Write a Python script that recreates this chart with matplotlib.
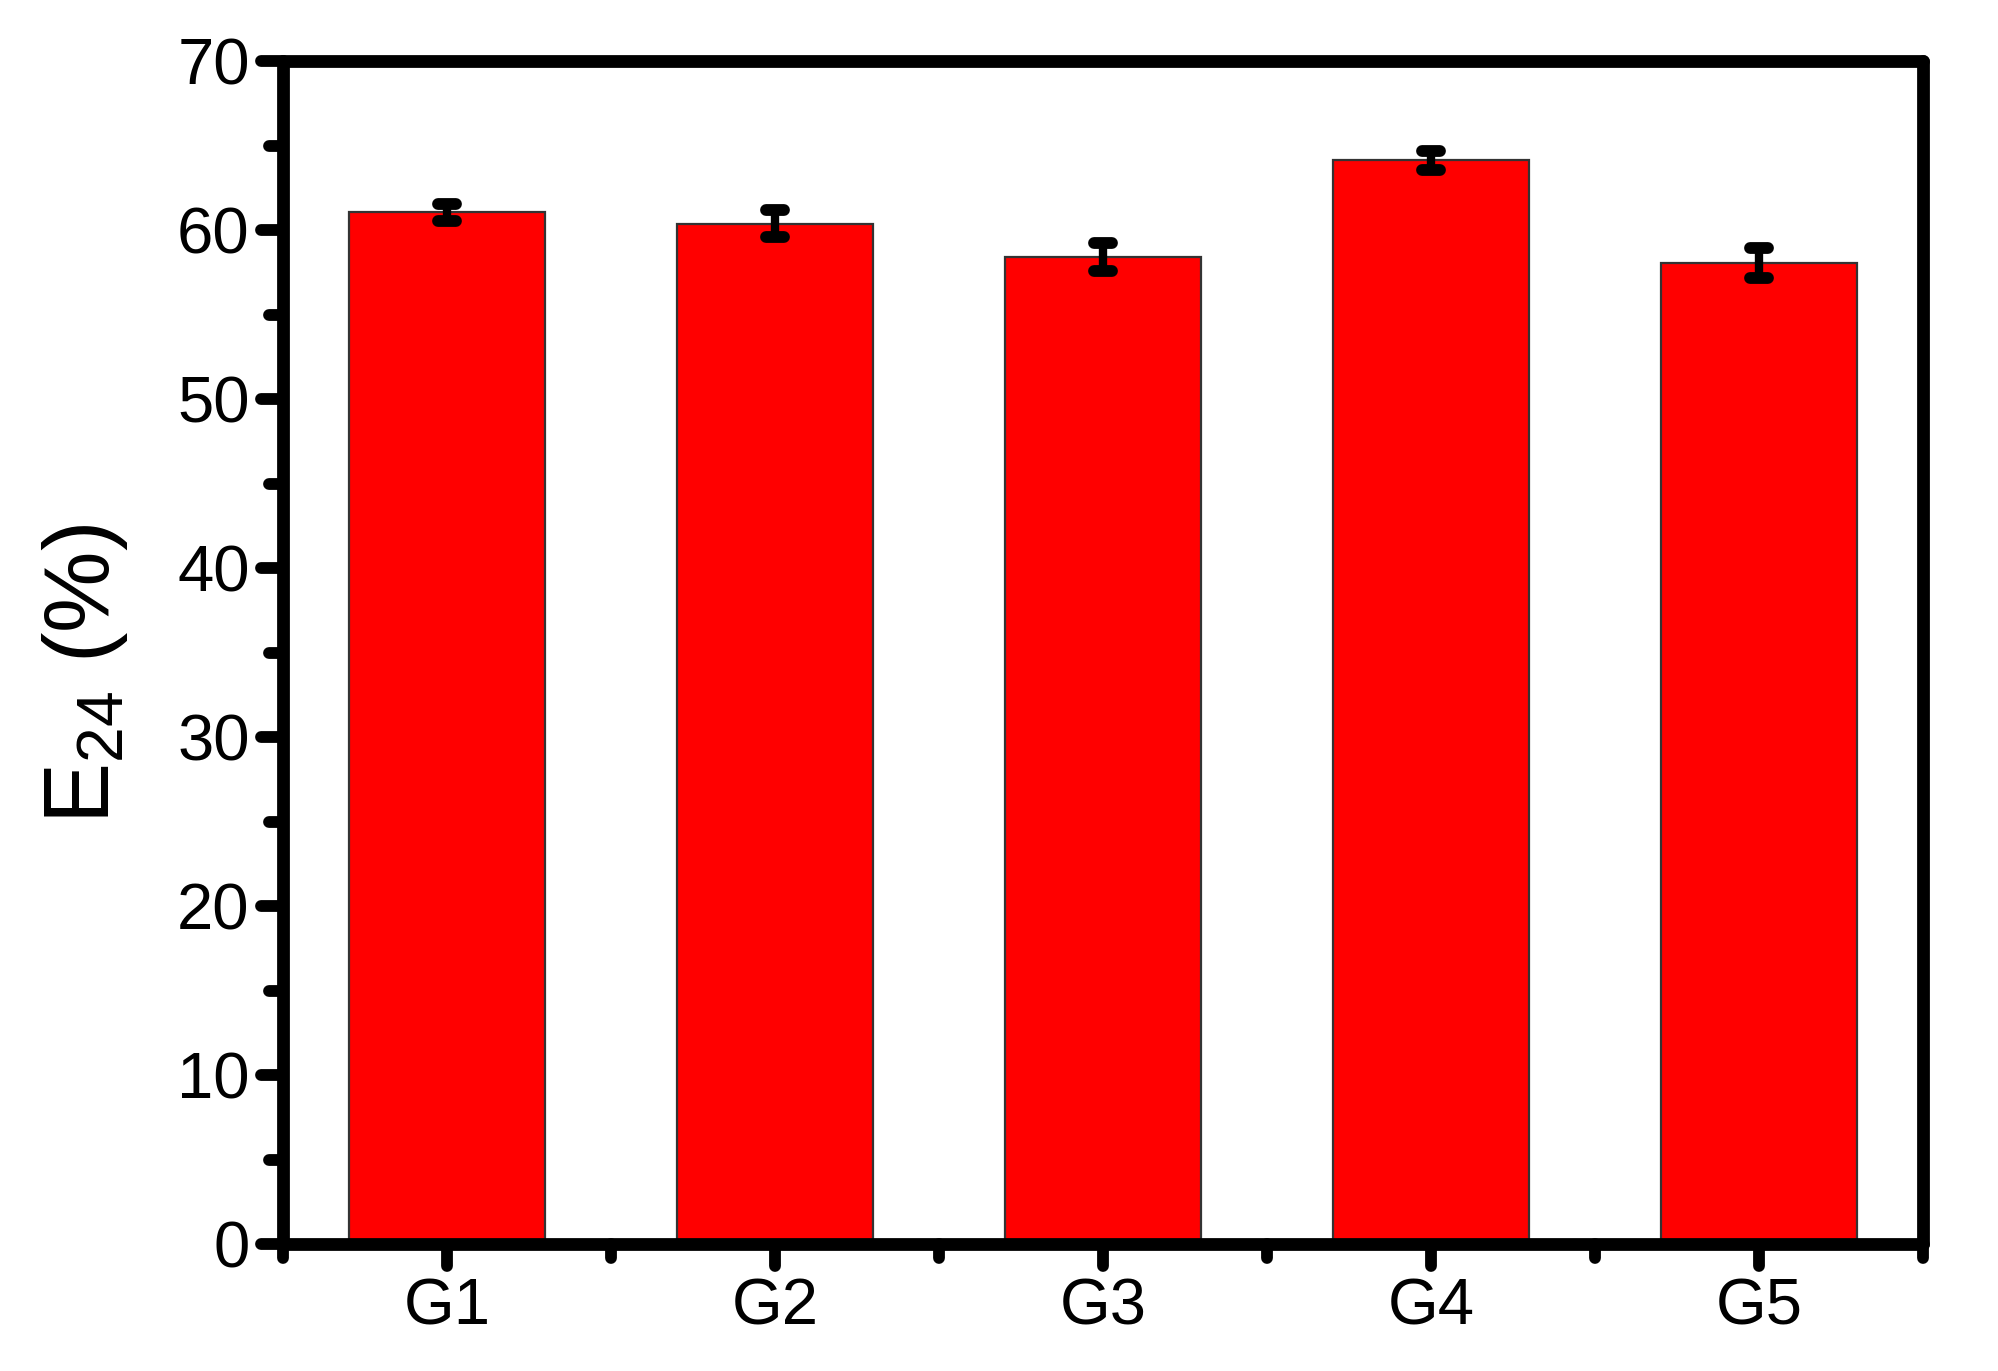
import matplotlib
matplotlib.use("Agg")
import matplotlib.pyplot as plt
import matplotlib.lines as mlines
from matplotlib.markers import MarkerStyle
import numpy as np

categories = ["G1", "G2", "G3", "G4", "G5"]
values = [61.05, 60.37, 58.4, 64.12, 58.07]
errors = [0.49, 0.79, 0.84, 0.55, 0.89]
yticks = [0, 10, 20, 30, 40, 50, 60, 70]

plt.rcParams['font.family'] = ['Liberation Sans', 'DejaVu Sans']
plt.rcParams['mathtext.default'] = 'regular'

fig = plt.figure(figsize=(19.99, 13.71), dpi=100)
L, R, B, T = 283 / 1999, 1923 / 1999, 1 - 1244 / 1371, 1 - 61 / 1371
ax = fig.add_axes([L, B, R - L, T - B])

x = np.arange(1, len(categories) + 1)
ax.bar(x, values, width=0.6, color='#ff0000', edgecolor='#333333', linewidth=1.6, zorder=2)
eb = ax.errorbar(x, values, yerr=errors, fmt='none', ecolor='black', elinewidth=6,
                 capsize=6.5, capthick=8.5, zorder=3)
for c in eb[1]:
    c.set_marker(MarkerStyle('_', capstyle='round'))
for lc in eb[2]:
    lc.set_capstyle('butt')

ax.set_xlim(0.5, 5.5)
ax.set_ylim(0, 70)
ax.set_xticks(x)
ax.set_xticklabels(categories)
ax.set_xticks(np.arange(0.5, 5.6, 1.0), minor=True)
ax.set_yticks(yticks)
ax.set_yticks(np.arange(5, 70, 10), minor=True)

for s in ax.spines.values():
    s.set_linewidth(9.2)
    s.set_capstyle('round')
    s.set_joinstyle('round')

ax.tick_params(axis='both', which='major', direction='out', length=16, width=8.5,
               labelsize=47)
ax.tick_params(axis='both', which='minor', direction='out', length=10, width=8.5)
ax.tick_params(axis='y', which='major', pad=8)
ax.tick_params(axis='x', which='major', pad=8)
ax.tick_params(top=False, right=False, which='both')

for t in ax.yaxis.get_major_ticks() + ax.yaxis.get_minor_ticks():
    t.tick1line.set_marker(MarkerStyle(mlines.TICKLEFT, capstyle='round'))
for t in ax.xaxis.get_major_ticks() + ax.xaxis.get_minor_ticks():
    t.tick1line.set_marker(MarkerStyle(mlines.TICKDOWN, capstyle='round'))

ax.set_ylabel('E$_{24}$ (%)', fontsize=66)
ax.yaxis.set_label_coords(-0.093, 0.482)

fig.savefig('out.png', dpi=100, facecolor='white')
